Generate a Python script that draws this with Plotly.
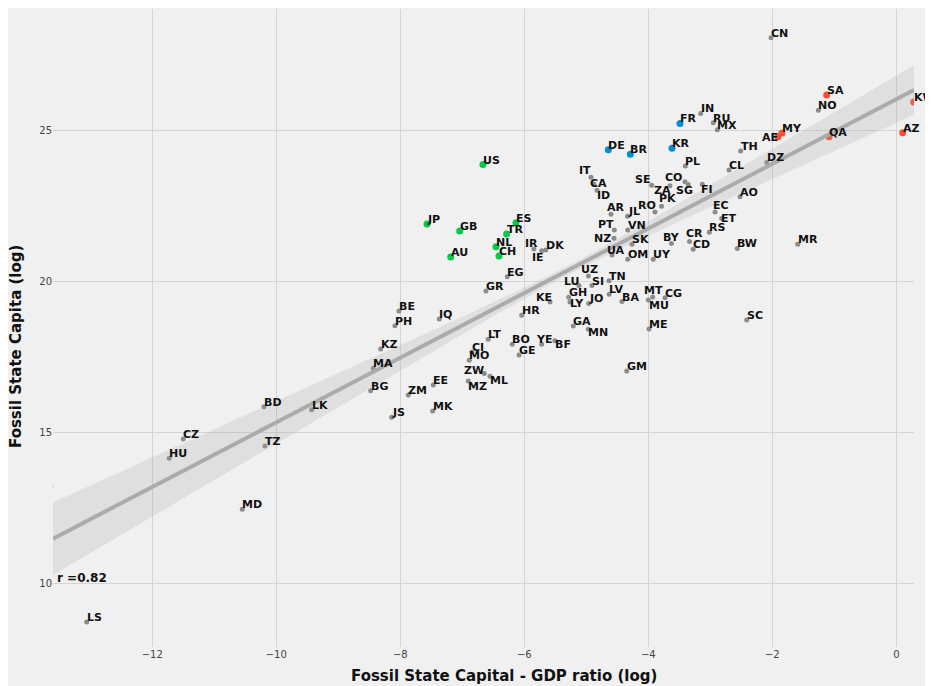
import numpy as np
import plotly.graph_objects as go

# ---------------- data ----------------
codes = ["CN", "SA", "NO", "KW", "AZ", "QA", "MY", "AE", "IN", "RU",
         "MX", "FR", "KR", "BR", "DE", "TH", "DZ", "PL", "CL", "US",
         "IT", "CA", "ID", "SE", "CO", "SG", "ZA", "FI", "AO", "PK",
         "RO", "AR", "JL", "EC", "ET", "RS", "JP", "GB", "ES", "TR",
         "PT", "VN", "NZ", "SK", "BY", "CR", "CD", "BW", "MR", "NL",
         "CH", "AU", "IR", "DK", "IE", "UA", "OM", "UY", "EG", "UZ",
         "TN", "LU", "SI", "GR", "GH", "LY", "JO", "LV", "BA", "MT",
         "MU", "CG", "KE", "BE", "PH", "IQ", "HR", "GA", "MN", "SC",
         "ME", "KZ", "LT", "BO", "YE", "BF", "CI", "MO", "GE", "MA",
         "ZW", "ML", "GM", "EE", "MZ", "ZM", "BG", "BD", "LK", "MK",
         "JS", "CZ", "TZ", "HU", "AT", "MD", "LS"]

gdp_ratio_log = [-2.021, -1.123, -1.258, 0.281, 0.103, -1.085, -1.844, -1.908, -3.155, -2.952,
                 -2.887, -3.489, -3.618, -4.290, -4.645, -2.510, -2.090, -3.403, -2.698, -6.666,
                 -4.924, -4.876, -4.827, -3.945, -3.408, -3.355, -3.650, -3.129, -2.521, -3.787,
                 -3.892, -4.602, -4.335, -2.924, -2.816, -3.016, -7.569, -7.042, -6.134, -6.284,
                 -4.548, -4.332, -4.553, -4.263, -3.626, -3.335, -3.276, -2.565, -1.590, -6.456,
                 -6.408, -7.187, -5.845, -5.655, -5.719, -4.585, -4.332, -3.921, -6.274, -4.965,
                 -4.634, -5.118, -4.908, -6.618, -5.284, -5.263, -4.961, -4.631, -4.424, -4.000,
                 -3.929, -3.731, -5.585, -8.021, -8.085, -7.371, -6.042, -5.210, -4.968, -2.413,
                 -3.989, -8.316, -6.581, -6.194, -5.719, -5.505, -6.844, -6.887, -6.085, -8.435,
                 -6.645, -6.553, -4.348, -7.468, -6.903, -7.871, -8.477, -10.198, -9.429, -7.477,
                 -8.139, -11.500, -10.182, -11.726, -13.634, -10.548, -13.058]

state_capita_log = [28.07, 26.17, 25.67, 25.94, 24.92, 24.79, 24.91, 24.79, 25.56, 25.25,
                    25.02, 25.23, 24.41, 24.21, 24.36, 24.32, 23.94, 23.82, 23.69, 23.87,
                    23.45, 23.22, 23.02, 23.18, 23.30, 23.21, 23.17, 23.22, 22.80, 22.49,
                    22.30, 22.22, 22.16, 22.30, 22.08, 21.63, 21.90, 21.67, 21.94, 21.57,
                    21.70, 21.70, 21.43, 21.23, 21.25, 21.32, 21.06, 21.09, 21.23, 21.15,
                    20.84, 20.81, 21.07, 21.04, 21.01, 20.87, 20.73, 20.73, 20.15, 20.18,
                    20.02, 19.86, 19.86, 19.68, 19.47, 19.32, 19.27, 19.57, 19.33, 19.38,
                    19.48, 19.46, 19.32, 19.02, 18.53, 18.75, 18.88, 18.52, 18.41, 18.72,
                    18.42, 17.76, 18.08, 17.92, 17.92, 18.03, 17.66, 17.39, 17.56, 17.12,
                    16.95, 16.86, 17.03, 16.57, 16.70, 16.24, 16.38, 15.85, 15.75, 15.71,
                    15.50, 14.78, 14.55, 14.14, 13.20, 12.45, 8.72]

green_codes = ["US", "JP", "GB", "ES", "TR", "NL", "CH", "AU"]
blue_codes = ["DE", "BR", "FR", "KR"]
red_codes = ["SA", "KW", "AZ", "QA", "MY", "AE"]

# fitted trend and its confidence band
trend_slope = 1.070
trend_intercept = 26.03
band_min_halfwidth = 0.15
band_center_x = -5.32
band_spread = 0.1438

x_ticks = [-12, -10, -8, -6, -4, -2, 0]
y_ticks = [10, 15, 20, 25]
r_text = "r =0.82"
x_title = "Fossil State Capital - GDP ratio (log)"
y_title = "Fossil State Capita (log)"

# label nudges in pixels (dx right, dy down) for crowded labels
label_offsets = {
    "IT": (-12, -2), "CA": (-4, 4), "ID": (0, 10), "SE": (-17, -1), "ZA": (-16, 9),
    "SG": (-12, 11), "CO": (-20, 0), "FI": (-1, 10), "PK": (-3, -3), "RO": (-17, -2),
    "AR": (-4, -2), "PT": (-16, -1), "NZ": (-20, 5), "BY": (-8, -2), "CR": (-4, -3),
    "EC": (-2, -2), "ET": (-1, 4), "UA": (-5, 0), "AE": (-16, 5), "IR": (-9, -1),
    "IE": (-10, 11), "ZW": (-20, 2), "MZ": (0, 10), "ML": (0, 9), "YE": (-6, 0),
    "BF": (0, 8), "KE": (-14, 0), "LY": (0, 6), "LU": (-15, 0), "UZ": (-7, -2),
    "MT": (-4, -5), "MU": (-4, 13), "MN": (0, 8),
}

# ---------------- figure ----------------
x = np.array(gdp_ratio_log)
y = np.array(state_capita_log)

x_range = [-13.60, 0.285]
y_range = [7.89, 29.02]

fig = go.Figure()

gray_idx = [i for i, c in enumerate(codes) if c not in green_codes + blue_codes + red_codes]
fig.add_trace(go.Scatter(
    x=[x[i] for i in gray_idx], y=[y[i] for i in gray_idx], mode="markers",
    marker=dict(color="#8c8c8c", size=5), showlegend=False, hoverinfo="skip"))

for grp, col in [(green_codes, "#00cc44"), (blue_codes, "#008fd5"), (red_codes, "#fc4f30")]:
    idx = [codes.index(c) for c in grp]
    fig.add_trace(go.Scatter(
        x=[x[i] for i in idx], y=[y[i] for i in idx], mode="markers",
        marker=dict(color=col, size=7), showlegend=False, hoverinfo="skip"))

xs = np.linspace(x_range[0], x_range[1], 120)
ys = trend_slope * xs + trend_intercept
hw = np.sqrt(band_min_halfwidth ** 2 + (band_spread * (xs - band_center_x)) ** 2)
fig.add_trace(go.Scatter(x=xs, y=ys - hw, mode="lines", line=dict(width=0),
                         showlegend=False, hoverinfo="skip"))
fig.add_trace(go.Scatter(x=xs, y=ys + hw, mode="lines", line=dict(width=0),
                         fill="tonexty", fillcolor="rgba(165,165,165,0.22)",
                         showlegend=False, hoverinfo="skip"))
fig.add_trace(go.Scatter(x=xs, y=ys, mode="lines", line=dict(color="#ababab", width=4),
                         showlegend=False, hoverinfo="skip"))

annotations = []
for c, xv, yv in zip(codes, x, y):
    dx, dy = label_offsets.get(c, (0, 0))
    annotations.append(dict(
        x=xv, y=yv, xref="x", yref="y", text=c, showarrow=False,
        xanchor="left", yanchor="bottom", xshift=dx - 2, yshift=-4 - dy,
        font=dict(family="DejaVu Sans", size=11, color="#111111", weight="bold")))

annotations.append(dict(
    x=-13.575, y=10, xref="x", yref="y", text=r_text, showarrow=False,
    xanchor="left", yanchor="bottom", yshift=-4,
    font=dict(family="DejaVu Sans", size=12, color="#111111", weight="bold")))

# page offset of the figure (browser body margin)
OFF = 8
W, H = 933 - OFF, 686 - OFF
ml, mr, mt, mb = 53 - OFF, 19, 9 - OFF, 39
pw, ph = W - ml - mr, H - mt - mb
plot_left, plot_bottom = 53, 647


def px(xp):
    return (xp - plot_left) / pw


def py(yp):
    return (plot_bottom - yp) / ph


annotations.append(dict(
    x=px(503.5), y=py(676), xref="paper", yref="paper", text=x_title, showarrow=False,
    xanchor="center", yanchor="middle",
    font=dict(family="DejaVu Sans", size=15, color="#111111", weight="bold")))
annotations.append(dict(
    x=px(16), y=py(347), xref="paper", yref="paper", text=y_title, showarrow=False,
    xanchor="center", yanchor="middle", textangle=-90,
    font=dict(family="DejaVu Sans", size=15, color="#111111", weight="bold")))

fig.update_layout(
    width=W, height=H,
    margin=dict(l=ml, r=mr, t=mt, b=mb, pad=0),
    paper_bgcolor="#f0f0f0", plot_bgcolor="#f0f0f0",
    font=dict(family="DejaVu Sans", size=10, color="#444444"),
    annotations=annotations,
    xaxis=dict(range=x_range, tickvals=x_ticks, showgrid=True, gridcolor="#d4d4d4",
               gridwidth=1, zeroline=False, showline=False, ticks="",
               tickfont=dict(size=10, color="#444444")),
    yaxis=dict(range=y_range, tickvals=y_ticks, showgrid=True, gridcolor="#d4d4d4",
               gridwidth=1, zeroline=False, showline=False, ticks="",
               tickfont=dict(size=10, color="#444444")),
)

fig.write_html("out.html")
